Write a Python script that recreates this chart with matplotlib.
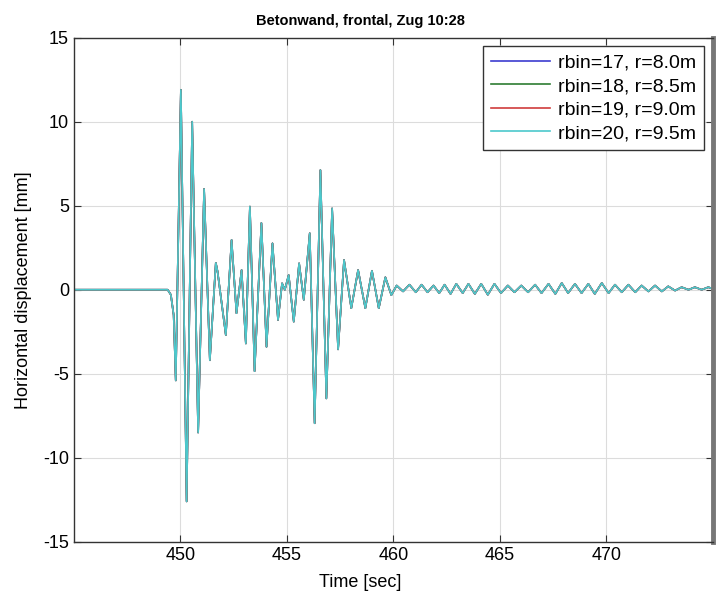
import matplotlib.pyplot as plt

# extrema of the displacement trace (time in s, displacement in mm)
time_s = [
    445.0, 449.4, 449.55, 449.68, 449.78, 450.02, 450.29, 450.55, 450.83, 451.11,
    451.38, 451.66, 451.74, 452.13, 452.40, 452.63, 452.87, 453.07, 453.26, 453.48,
    453.80, 454.04, 454.32, 454.58, 454.77, 454.90, 455.08, 455.32, 455.57, 455.79,
    456.07, 456.30, 456.57, 456.85, 457.12, 457.40, 457.68, 458.02, 458.34, 458.68,
    458.99, 459.31, 459.62, 459.90,
    460.15, 460.45, 460.75, 461.05, 461.32, 461.60, 461.88, 462.15, 462.40, 462.68,
    462.95, 463.25, 463.52, 463.82, 464.12, 464.43, 464.74, 465.05, 465.37, 465.68,
    466.00, 466.32, 466.65, 466.95, 467.28, 467.60, 467.90, 468.20, 468.52, 468.83,
    469.15, 469.45, 469.78, 470.10, 470.40, 470.72, 471.03, 471.35, 471.65, 471.97,
    472.28, 472.60, 472.90, 473.22, 473.53, 473.85, 474.15, 474.47, 474.78, 475.0,
]
disp_mm = [
    0.0, 0.0, -0.3, -1.5, -5.4, 11.9, -12.6, 10.0, -8.5, 6.0,
    -4.2, 1.6, 1.1, -2.7, 2.96, -1.4, 1.17, -3.2, 4.95, -4.85,
    3.97, -3.4, 2.76, -1.8, 0.38, 0.0, 0.87, -1.9, 1.57, -0.6,
    3.36, -7.95, 7.12, -6.47, 4.84, -3.55, 1.77, -1.1, 1.17, -1.1,
    1.13, -1.1, 0.74, -0.32,
    0.25, -0.1, 0.3, -0.15, 0.3, -0.15, 0.25, -0.2, 0.3, -0.25,
    0.35, -0.2, 0.35, -0.25, 0.35, -0.3, 0.35, -0.2, 0.25, -0.15,
    0.25, -0.15, 0.3, -0.2, 0.35, -0.25, 0.4, -0.2, 0.35, -0.2,
    0.35, -0.25, 0.4, -0.2, 0.3, -0.15, 0.3, -0.15, 0.25, -0.1,
    0.25, -0.1, 0.2, -0.05, 0.15, 0.0, 0.15, 0.0, 0.15, 0.05,
]

series_labels = ["rbin=17, r=8.0m", "rbin=18, r=8.5m", "rbin=19, r=9.0m", "rbin=20, r=9.5m"]
series_colors = ["#3c3cd0", "#2e7d32", "#d03c3c", "#4cc8cc"]

x_ticks = [450, 455, 460, 465, 470]
y_ticks = [-15, -10, -5, 0, 5, 10, 15]


def main() -> None:
    plt.rcParams["font.family"] = ["Liberation Sans", "DejaVu Sans"]
    plt.rcParams["axes.unicode_minus"] = False
    fig = plt.figure(figsize=(7.18, 5.94), dpi=100)
    ax = fig.add_axes([0.103, 0.088, 0.890, 0.8485])

    for label, color in zip(series_labels, series_colors):
        ax.plot(time_s, disp_mm, color=color, linewidth=1.2, label=label)

    ax.set_xlim(445, 475)
    ax.set_ylim(-15, 15)
    ax.set_xticks(x_ticks)
    ax.set_yticks(y_ticks)
    ax.grid(True, color="#dcdcdc", linewidth=0.8)
    ax.set_axisbelow(True)
    ax.tick_params(direction="in", top=True, right=True, length=5,
                   labelsize=13, colors="#333333", labelcolor="black")
    for side in ["left", "bottom", "top"]:
        ax.spines[side].set_color("#333333")
        ax.spines[side].set_linewidth(1.0)
    ax.spines["right"].set_color("#777777")
    ax.spines["right"].set_linewidth(3.5)

    ax.set_xlabel("Time [sec]", fontsize=13)
    ax.xaxis.set_label_coords(0.448, -0.065)
    ax.set_ylabel("Horizontal displacement [mm]", fontsize=13, labelpad=8)
    ax.set_title("Betonwand, frontal, Zug 10:28", fontsize=10.5, fontweight="bold",
                 x=0.449, pad=9)

    leg = ax.legend(loc="upper right", fontsize=14, fancybox=False, framealpha=1,
                    edgecolor="#333333", handlelength=3.0, labelspacing=0.3,
                    borderpad=0.4, borderaxespad=0.45, handletextpad=0.45)
    leg.get_frame().set_linewidth(1.0)

    fig.savefig("out.png", dpi=100)
    plt.close(fig)


if __name__ == "__main__":
    main()
